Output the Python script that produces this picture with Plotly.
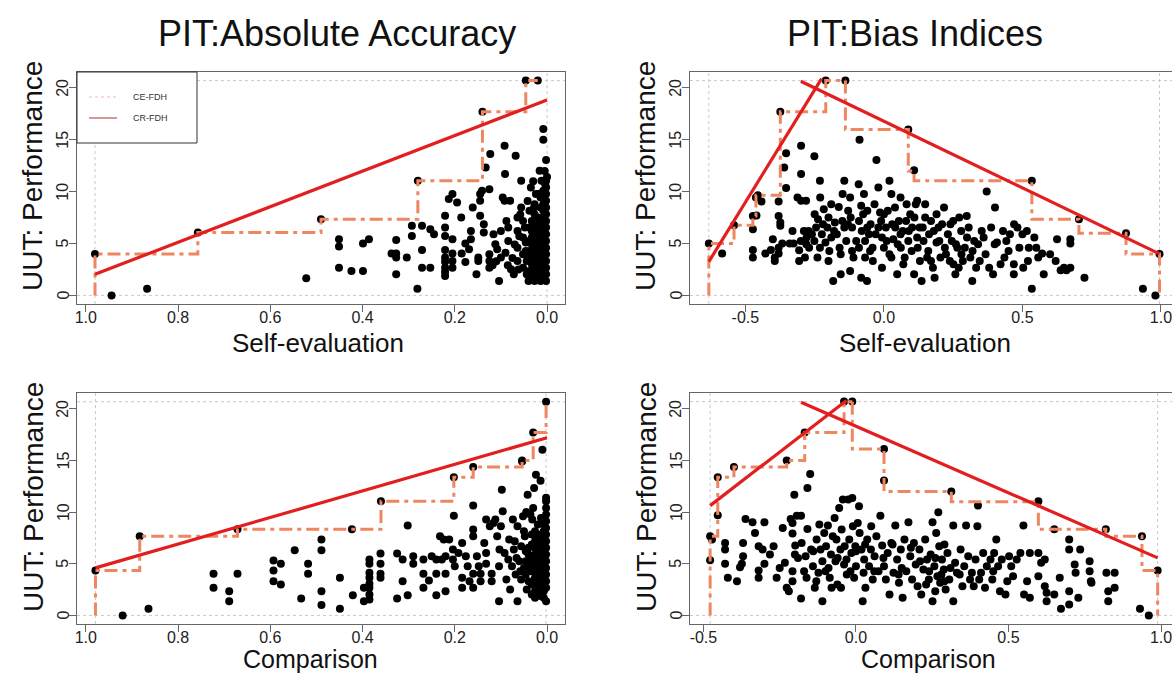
import plotly.graph_objects as go

# ---------------- data ----------------
# Top-left: Self-evaluation absolute accuracy vs performance
tl_x = [0.944,0.867,0.522,0.451,0.451,0.451,0.424,0.399,0.399,0.386,
        0.337,0.327,0.327,0.327,0.327,0.304,0.293,0.293,0.281,0.271,
        0.271,0.271,0.253,0.253,0.245,0.221,0.221,0.221,0.221,0.221,
        0.221,0.221,0.221,0.221,0.213,0.205,0.195,0.205,0.205,0.205,
        0.205,0.186,0.185,0.177,0.177,0.169,0.165,0.165,0.161,0.153,
        0.149,0.149,0.145,0.145,0.145,0.141,0.137,0.137,0.133,0.125,
        0.123,0.125,0.125,0.125,0.116,0.112,0.108,0.104,0.1,0.1,
        0.096,0.092,0.091,0.092,0.088,0.084,0.084,0.08,0.078,0.072,
        0.068,0.064,0.064,0.064,0.064,0.056,0.056,0.052,0.052,0.052,
        0.052,0.048,0.046,0.046,0.044,0.044,0.04,0.016,0.012,0.008,
        0.008,0.002,0.028,0.024,0.98,0.757,0.49,0.28,0.14,0.046,
        0.02,0.002,0.002,0.002,0.002,0.002,0.002,0.002,0.002,0.002,
        0.002,0.002,0.002,0.002,0.002,0.002,0.002,0.008,0.008,0.008,
        0.008,0.008,0.008,0.008,0.008,0.008,0.008,0.008,0.008,0.008,
        0.014,0.014,0.014,0.014,0.014,0.014,0.014,0.014,0.014,0.014,
        0.014,0.014,0.02,0.02,0.02,0.02,0.02,0.02,0.02,0.02,
        0.02,0.02,0.027,0.027,0.027,0.027,0.027,0.027,0.027,0.027,
        0.027,0.033,0.033,0.033,0.033,0.033,0.033,0.033,0.038,0.038,
        0.038,0.038,0.038,0.038,0.06,0.07,0.075,0.09,0.11,0.118,
        0.058,0.042,0.035,0.03,0.005,0.0,0.004,0.017,0.062,0.085]
tl_y = [0.0,0.64,1.64,5.41,4.70,2.67,2.35,4.99,2.35,5.41,
        4.03,5.35,4.03,3.64,2.03,3.64,6.7,5.73,0.64,6.7,
        4.38,2.67,6.38,2.67,5.9,7.67,6.54,5.73,4.38,3.64,
        3.25,2.67,2.25,1.87,9.28,9.76,8.95,5.41,4.03,3.32,
        2.67,7.5,4.03,4.99,3.22,4.44,6.2,5.41,8.47,2.03,
        3.64,3.32,9.76,7.67,9.11,10.08,6.86,6.05,12.33,10.24,
        13.62,3.96,3.32,2.67,5.9,4.93,4.44,1.38,6.2,3.64,
        9.44,14.43,11.69,9.11,7.18,6.54,5.25,9.11,2.51,2.03,
        13.46,7.5,6.2,4.6,3.32,11.05,8.47,7.18,5.57,3.96,
        2.67,6.54,5.09,4.28,3.32,2.03,1.38,12.01,11.05,16.04,
        15.0,13.04,8.47,9.76,4.0,6.05,7.35,11.05,17.7,20.7,
        20.7,1.38,2.03,2.67,3.32,3.96,4.6,5.25,5.9,6.54,
        7.18,7.83,8.47,9.11,9.76,10.4,11.05,1.71,2.35,3.0,
        3.64,4.28,4.93,5.57,6.2,6.86,7.5,8.15,8.79,10.08,
        1.38,2.03,2.67,3.32,3.96,4.6,5.25,5.9,6.54,7.18,
        8.47,9.44,1.71,2.35,3.0,3.64,4.28,4.93,5.57,6.2,
        6.86,7.5,1.38,2.67,3.32,4.6,5.25,5.9,6.54,7.83,
        8.79,2.03,3.0,3.96,4.93,5.57,6.2,7.18,2.35,3.64,
        4.28,5.25,6.54,8.15,5.7,4.9,3.6,4.1,3.3,2.9,
        7.8,9.1,10.4,11.0,12.0,11.4,10.7,9.8,2.5,2.9]

# Top-right: Self-evaluation bias index vs performance
tr_x = [-0.584,-0.541,-0.473,-0.473,-0.473,-0.473,-0.462,-0.455,-0.442,-0.428,
        -0.408,-0.401,-0.394,-0.394,-0.38,-0.38,-0.38,-0.38,-0.374,-0.374,
        -0.36,-0.353,-0.353,-0.367,-0.34,-0.326,-0.312,-0.306,-0.306,-0.299,
        -0.299,-0.299,-0.289,-0.285,-0.281,-0.279,-0.272,-0.251,-0.251,-0.245,
        -0.238,-0.231,-0.231,-0.224,-0.217,-0.211,-0.204,-0.197,-0.19,-0.183,
        -0.177,-0.17,-0.163,-0.156,-0.156,-0.149,-0.143,-0.143,-0.136,-0.129,
        -0.122,-0.122,-0.115,-0.115,-0.091,-0.088,-0.082,-0.082,-0.075,-0.072,
        -0.068,-0.068,-0.061,-0.054,-0.048,-0.041,-0.034,-0.027,-0.02,-0.02,
        -0.014,-0.007,-0.007,0.0,0.007,0.014,0.02,0.027,0.027,0.034,
        0.041,0.048,0.054,0.061,0.068,0.075,0.082,0.088,0.095,0.102,
        0.109,0.115,0.122,0.129,0.136,0.143,0.149,0.149,0.156,0.163,
        0.17,0.177,0.183,0.19,0.197,0.204,0.217,0.224,0.231,0.238,
        0.245,0.251,0.258,0.265,0.272,0.279,0.285,0.292,0.299,0.306,
        0.312,0.319,0.326,0.333,0.346,0.353,0.367,0.371,0.38,0.387,
        0.394,0.401,0.408,0.421,0.435,0.442,0.455,0.469,0.469,0.482,
        0.489,0.503,0.516,0.523,0.534,0.543,0.557,0.571,0.577,0.625,
        0.638,0.659,0.673,0.673,0.673,0.724,0.935,0.98,-0.632,-0.374,
        -0.21,-0.139,0.088,0.109,0.534,0.704,0.874,0.995,-0.46,-0.08,
        -0.26,-0.22,-0.19,-0.16,-0.13,-0.1,-0.09,-0.06,-0.05,-0.03,
        -0.01,0.01,0.03,0.05,0.06,0.08,0.1,0.12,0.14,0.16,
        0.18,0.2,0.22,0.24,0.26,0.28,0.3,0.32,0.34,0.36,
        -0.28,-0.24,-0.2,-0.18,-0.15,-0.11,-0.09,-0.04,0.0,0.02,
        0.04,0.07,0.09,0.11,0.13,0.17,0.19,0.21,0.25,0.27,
        -0.33,-0.3,-0.27,-0.25,-0.23,-0.2,-0.12,-0.06,0.06,0.12,
        0.4,0.43,0.45,0.47,0.5,0.52,0.55,0.6,0.62,0.65]
tr_y = [4.03,6.76,6.38,4.38,3.64,7.66,9.44,9.66,9.05,4.03,
        4.38,5.41,3.64,3.32,7.66,9.05,4.6,4.03,7.02,6.7,
        12.33,13.69,10.34,4.99,4.99,4.99,9.44,3.32,4.35,14.43,
        11.69,9.11,6.2,3.64,9.11,5.57,6.2,13.4,5.25,6.54,
        7.34,11.05,4.6,5.9,8.31,5.09,6.54,4.28,8.79,1.38,
        7.02,5.9,8.53,2.03,3.96,9.76,11.05,6.54,5.25,8.15,
        9.44,2.35,4.28,6.54,10.72,15.0,1.71,8.63,7.83,9.76,
        5.25,3.64,1.38,5.9,6.86,4.6,8.79,13.04,10.4,6.54,
        7.99,5.57,2.67,4.6,6.54,8.15,11.05,9.76,3.64,5.41,
        6.54,2.03,7.18,4.6,6.2,3.64,8.79,5.25,7.83,6.54,
        2.03,8.79,4.6,6.54,1.38,5.25,8.79,7.5,3.64,5.9,
        7.18,2.67,1.71,5.09,6.54,3.64,8.47,3.96,5.9,3.32,
        5.25,3.0,2.03,4.6,7.5,6.2,3.32,4.6,7.66,6.54,
        3.64,1.38,5.25,2.67,3.32,6.2,3.96,10.02,2.67,6.54,
        2.03,8.47,5.09,3.0,3.64,5.25,5.9,3.0,2.03,6.54,
        4.6,2.67,6.2,4.6,0.64,5.57,3.64,4.03,2.03,5.41,
        2.42,2.42,2.67,4.99,5.41,1.71,0.64,0.0,5.0,17.7,
        20.7,20.7,16.0,12.05,11.05,7.35,6.0,4.0,7.7,6.2,
        5.9,6.86,5.57,4.6,6.86,5.25,7.18,6.54,4.28,5.9,
        7.18,5.25,6.86,4.93,5.9,7.18,4.28,5.57,6.54,4.28,
        6.2,5.25,4.6,6.86,4.93,3.96,5.57,4.28,4.93,5.57,
        4.93,3.64,3.32,6.2,7.18,3.64,4.6,3.32,7.83,3.96,
        8.47,3.0,6.2,7.5,3.32,3.32,7.83,6.86,7.18,2.67,
        6.2,5.25,4.6,7.83,9.44,7.5,7.5,8.15,9.44,9.11,
        4.93,6.2,4.28,6.86,5.9,3.32,4.6,3.96,3.32,2.67]

# Bottom-left: Comparison absolute accuracy vs performance
bl_x = [0.92,0.864,0.723,0.723,0.689,0.689,0.671,0.593,0.593,0.593,
        0.577,0.577,0.547,0.533,0.518,0.518,0.489,0.489,0.489,0.489,
        0.449,0.449,0.421,0.397,0.397,0.385,0.385,0.385,0.385,0.385,
        0.385,0.385,0.385,0.361,0.361,0.361,0.361,0.325,0.325,0.313,
        0.313,0.302,0.302,0.29,0.29,0.268,0.268,0.268,0.256,0.25,
        0.24,0.24,0.24,0.232,0.228,0.224,0.22,0.22,0.22,0.212,
        0.202,0.204,0.204,0.2,0.192,0.184,0.184,0.184,0.176,0.172,
        0.168,0.16,0.16,0.16,0.16,0.16,0.152,0.148,0.144,0.144,
        0.136,0.132,0.132,0.132,0.124,0.12,0.12,0.116,0.112,0.108,
        0.104,0.104,0.103,0.1,0.098,0.096,0.092,0.088,0.084,0.082,
        0.08,0.076,0.074,0.072,0.068,0.064,0.064,0.06,0.056,0.056,
        0.054,0.052,0.048,0.044,0.042,0.032,0.028,0.024,0.02,0.014,
        0.01,0.014,0.002,0.979,0.883,0.671,0.423,0.36,0.202,0.16,
        0.054,0.03,0.002,0.002,0.002,0.002,0.002,0.002,0.002,0.002,
        0.002,0.002,0.002,0.002,0.002,0.002,0.002,0.002,0.007,0.007,
        0.007,0.007,0.007,0.007,0.007,0.007,0.007,0.007,0.007,0.007,
        0.013,0.013,0.013,0.013,0.013,0.013,0.013,0.013,0.013,0.013,
        0.02,0.02,0.02,0.02,0.02,0.02,0.02,0.02,0.02,0.026,
        0.026,0.026,0.026,0.026,0.026,0.026,0.026,0.026,0.033,0.033,
        0.033,0.033,0.033,0.033,0.033,0.04,0.04,0.04,0.04,0.046,
        0.046,0.046,0.05,0.05,0.036,0.03,0.045,0.07,0.066,0.058]
bl_y = [0.0,0.64,4.03,2.67,2.35,1.38,4.03,5.31,4.35,3.32,
        4.99,3.0,6.31,1.64,4.99,4.03,7.34,6.31,2.35,1.0,
        3.64,0.64,1.96,2.67,1.38,5.41,4.99,4.12,3.64,3.06,
        2.67,2.03,1.55,5.99,4.99,4.03,3.64,5.99,1.64,5.41,
        3.32,8.7,1.96,5.73,4.99,5.41,4.03,2.67,3.38,5.73,
        5.41,4.03,1.96,7.67,5.41,7.34,5.73,4.03,2.35,7.34,
        9.66,6.38,5.41,4.77,6.05,7.02,3.64,2.67,5.73,4.77,
        3.32,10.63,8.31,7.67,4.03,2.67,5.73,4.77,4.03,3.32,
        7.02,9.28,6.05,4.99,8.63,4.03,3.32,8.95,9.28,7.67,
        1.38,4.77,6.38,8.63,12.17,10.08,6.05,3.48,5.41,7.34,
        2.51,4.77,9.28,6.38,3.96,1.38,8.63,5.25,3.48,6.7,
        14.91,9.6,7.67,2.51,11.69,9.28,12.33,13.62,2.19,13.04,
        16.04,1.87,1.38,4.35,7.67,8.34,8.34,11.05,13.37,14.36,
        15.0,17.7,20.68,2.67,3.32,3.96,4.6,5.25,5.9,6.54,
        7.18,7.83,8.47,9.11,9.76,10.4,11.05,11.4,1.71,2.35,
        3.0,3.64,4.28,4.93,5.57,6.2,6.86,7.5,8.15,8.79,
        2.67,3.32,3.96,4.6,5.25,5.9,6.54,7.18,7.83,9.44,
        3.0,3.64,4.28,4.93,5.57,6.2,6.86,7.5,8.79,1.71,
        2.35,3.64,4.6,5.25,5.9,6.54,7.18,8.15,2.03,3.0,
        4.28,4.93,5.57,6.86,7.83,3.32,4.6,5.9,6.54,3.96,
        5.25,6.2,4.6,8.15,9.76,10.4,10.0,7.18,5.57,4.28]

# Bottom-right: Comparison bias index vs performance
br_x = [-0.478,-0.472,-0.429,-0.429,-0.429,-0.42,-0.39,-0.37,-0.37,-0.374,
        -0.38,-0.362,-0.339,-0.331,-0.319,-0.319,-0.319,-0.306,-0.3,-0.3,
        -0.282,-0.26,-0.233,-0.227,-0.22,-0.214,-0.208,-0.208,-0.208,-0.208,
        -0.202,-0.199,-0.194,-0.18,-0.18,-0.178,-0.165,-0.162,-0.159,-0.159,
        -0.15,-0.147,-0.141,-0.135,-0.129,-0.123,-0.116,-0.11,-0.11,-0.104,
        -0.098,-0.092,-0.086,-0.082,-0.076,-0.067,-0.064,-0.061,-0.055,-0.051,
        -0.049,-0.047,-0.043,-0.039,-0.037,-0.031,-0.025,-0.022,-0.018,-0.015,
        -0.012,-0.01,-0.006,-0.002,0.0,0.006,0.01,0.012,0.018,0.022,
        0.025,0.027,0.031,0.037,0.043,0.049,0.055,0.061,0.067,0.074,
        0.08,0.086,0.092,0.098,0.104,0.11,0.116,0.123,0.129,0.135,
        0.141,0.147,0.153,0.159,0.165,0.172,0.178,0.184,0.19,0.196,
        0.202,0.208,0.214,0.221,0.227,0.233,0.239,0.245,0.251,0.251,
        0.257,0.263,0.267,0.27,0.273,0.276,0.282,0.288,0.294,0.3,
        0.306,0.319,0.319,0.325,0.331,0.343,0.349,0.355,0.361,0.368,
        0.374,0.38,0.386,0.392,0.398,0.4,0.404,0.41,0.417,0.423,
        0.429,0.441,0.447,0.453,0.46,0.466,0.472,0.478,0.49,0.496,
        0.502,0.509,0.515,0.527,0.539,0.549,0.551,0.561,0.57,0.57,
        0.598,0.598,0.607,0.619,0.619,0.625,0.625,0.65,0.668,0.672,
        0.699,0.699,0.699,0.699,0.717,0.72,0.729,0.735,0.766,0.766,
        0.77,0.772,0.821,0.827,0.827,0.848,0.848,0.931,0.96,-0.478,
        -0.453,-0.453,-0.40,-0.227,-0.168,-0.039,-0.012,0.092,0.092,0.3125,
        0.598,0.65,0.819,0.9375,0.989,-0.25,-0.19,-0.14,-0.09,-0.06,
        -0.03,0.0,0.03,0.06,0.09,0.12,0.15,0.18,0.21,0.24,
        0.26,0.28,0.29,0.31,0.34,-0.27,-0.24,-0.12,-0.07,0.05,
        -0.2,-0.17,-0.13,-0.1,-0.08,0.26,0.29,0.23,0.14,0.45]
br_y = [5.35,7.34,7.02,6.38,4.99,3.64,3.32,7.02,5.73,4.99,
        4.67,9.34,9.02,7.99,6.7,4.35,3.64,6.38,9.02,4.99,
        5.9,3.64,5.09,2.67,2.35,9.34,8.95,7.92,4.28,3.32,
        11.69,6.76,9.66,9.66,1.64,7.02,5.73,3.64,8.37,12.33,
        13.69,6.38,4.77,2.67,7.34,4.12,6.38,1.38,5.25,7.99,
        6.7,8.7,3.64,5.9,7.67,5.25,7.34,3.0,10.4,6.38,
        2.67,8.31,11.21,4.93,6.7,5.41,11.21,7.34,4.28,6.05,
        11.37,8.63,3.64,6.7,4.77,8.95,10.56,7.99,6.38,1.38,
        4.12,5.41,2.67,7.34,4.77,6.38,3.48,5.73,7.67,4.28,
        9.66,6.76,4.77,3.48,6.05,2.03,7.02,4.12,8.7,5.41,
        3.16,6.38,1.71,7.34,4.28,9.02,5.73,3.48,7.02,4.93,
        2.83,6.38,2.03,4.44,7.34,5.41,3.48,5.9,1.38,9.02,
        4.77,7.99,3.8,9.98,6.7,3.16,5.41,4.44,2.51,6.05,
        3.48,1.38,8.7,5.09,4.12,6.38,2.83,4.77,8.7,5.73,
        3.48,4.12,2.83,5.41,8.63,10.63,3.48,4.12,6.05,2.67,
        4.77,5.41,3.48,6.05,7.34,4.77,2.35,5.41,2.03,3.32,
        5.73,4.77,3.8,5.41,6.05,8.7,2.03,3.32,1.71,6.05,
        6.05,3.8,5.09,5.41,2.83,2.19,1.38,2.03,3.64,0.64,
        7.34,6.38,2.35,1.06,4.93,4.12,1.71,6.38,5.25,4.28,
        3.32,3.16,4.12,2.35,1.38,4.12,2.67,0.64,0.0,7.67,
        13.37,9.7,14.36,15.0,17.7,20.7,20.7,16.1,13.05,12.0,
        11.05,8.34,8.34,7.67,4.35,4.6,5.57,6.2,4.6,5.57,
        3.96,6.2,6.86,4.28,5.57,6.86,4.6,6.54,5.25,4.28,
        5.57,3.96,6.86,4.6,3.96,6.7,8.47,8.79,9.44,8.63,
        5.9,4.28,3.32,4.28,2.67,2.35,3.32,3.0,3.96,4.28]

# CE-FDH step frontiers (frontier points)
ce_tl_x = [0.98, 0.98, 0.757, 0.49, 0.28, 0.14, 0.046, 0.02]
ce_tl_y = [0.0, 4.0, 6.05, 7.35, 11.05, 17.7, 20.7, 20.7]
ce_tr_up_x = [-0.632, -0.632, -0.541, -0.473, -0.462, -0.374, -0.21, -0.139]
ce_tr_up_y = [0.0, 5.0, 6.76, 7.66, 9.66, 17.7, 20.7, 20.7]
ce_tr_dn_x = [-0.139, 0.088, 0.109, 0.534, 0.704, 0.874, 0.995, 0.995]
ce_tr_dn_y = [20.7, 16.0, 12.0, 11.05, 7.35, 6.0, 4.0, 0.0]
ce_bl_x = [0.979, 0.979, 0.883, 0.671, 0.36, 0.202, 0.16, 0.054, 0.03, 0.002]
ce_bl_y = [0.0, 4.35, 7.67, 8.34, 11.05, 13.37, 14.36, 15.0, 17.7, 20.68]
ce_br_up_x = [-0.478, -0.478, -0.453, -0.40, -0.227, -0.168, -0.039, -0.012]
ce_br_up_y = [0.0, 7.67, 13.37, 14.36, 15.0, 17.7, 20.68, 20.68]
ce_br_dn_x = [-0.012, 0.092, 0.3125, 0.598, 0.819, 0.9375, 0.989, 0.989]
ce_br_dn_y = [20.68, 16.1, 12.0, 11.0, 8.34, 7.67, 4.35, 0.0]

# CR-FDH lines (end points)
cr_tl_x = [0.98, 0.0]
cr_tl_y = [2.03, 18.84]
cr_tr_up_x = [-0.632, -0.225]
cr_tr_up_y = [3.25, 20.9]
cr_tr_dn_x = [-0.30, 0.995]
cr_tr_dn_y = [20.64, 4.0]
cr_bl_x = [0.979, 0.0]
cr_bl_y = [4.6, 17.2]
cr_br_up_x = [-0.478, -0.031]
cr_br_up_y = [10.63, 20.8]
cr_br_dn_x = [-0.18, 0.989]
cr_br_dn_y = [20.64, 5.57]

titles = ["PIT:Absolute Accuracy", "PIT:Bias Indices"]
xlabels = ["Self-evaluation", "Comparison"]
ylabel = "UUT: Performance"
legend_labels = ["CE-FDH", "CR-FDH"]
acc_ticks = [1.0, 0.8, 0.6, 0.4, 0.2, 0.0]
bias_ticks = [-0.5, 0.0, 0.5, 1.0]
y_ticks = [0, 5, 10, 15, 20]

# ---------------- styling ----------------
W, H = 1172, 673
FONT = "Liberation Sans, Arial, Helvetica, sans-serif"
CE_COLOR = "#EE8660"
CR_COLOR = "#E21E1E"
AX_COLOR = "#666666"
GRID_COLOR = "#C9C9C9"
CE_DASH = "13px,5px,4px,5px"


def px(p):
    return p / W


def py(p):
    return 1 - p / H


def fmt(v):
    # R style labels with an ASCII hyphen for negatives
    return "%.1f" % v


panels = [
    dict(ax="", xs=tl_x, ys=tl_y, xdom=(77, 565), ydom=(72, 304),
         xrange=[1.019, -0.039], xticks=acc_ticks, left=True,
         title=titles[0], title_x=337, xlabel=xlabels[0], xlabel_x=318, xlabel_y=343,
         xlabel_size=26, ycen=176,
         ce=[(ce_tl_x, ce_tl_y, "hv")], cr=[(cr_tl_x, cr_tl_y)]),
    dict(ax="2", xs=tr_x, ys=tr_y, xdom=(690, 1172), ydom=(72, 304),
         xrange=[-0.700, 1.040], xticks=bias_ticks, left=False,
         title=titles[1], title_x=915, xlabel=xlabels[0], xlabel_x=925, xlabel_y=343,
         xlabel_size=26, ycen=176,
         ce=[(ce_tr_up_x, ce_tr_up_y, "hv"), (ce_tr_dn_x, ce_tr_dn_y, "vh")],
         cr=[(cr_tr_up_x, cr_tr_up_y), (cr_tr_dn_x, cr_tr_dn_y)]),
    dict(ax="3", xs=bl_x, ys=bl_y, xdom=(77, 565), ydom=(393, 624),
         xrange=[1.019, -0.039], xticks=acc_ticks, left=True,
         title=None, xlabel=xlabels[1], xlabel_x=310, xlabel_y=659,
         xlabel_size=25, ycen=497,
         ce=[(ce_bl_x, ce_bl_y, "hv")], cr=[(cr_bl_x, cr_bl_y)]),
    dict(ax="4", xs=br_x, ys=br_y, xdom=(690, 1172), ydom=(393, 624),
         xrange=[-0.544, 1.036], xticks=bias_ticks, left=False,
         title=None, xlabel=xlabels[1], xlabel_x=928, xlabel_y=659,
         xlabel_size=25, ycen=497,
         ce=[(ce_br_up_x, ce_br_up_y, "hv"), (ce_br_dn_x, ce_br_dn_y, "vh")],
         cr=[(cr_br_up_x, cr_br_up_y), (cr_br_dn_x, cr_br_dn_y)]),
]

fig = go.Figure()
shapes = []
annotations = []
layout = dict(
    width=W, height=H, margin=dict(l=0, r=0, t=0, b=0),
    paper_bgcolor="white", plot_bgcolor="white", showlegend=False,
    template="none", font=dict(family=FONT, color="#111"),
)

for p in panels:
    xa = "x" + p["ax"]
    ya = "y" + p["ax"]
    # dotted reference lines at the data extremes
    xmin, xmax = min(p["xs"]), max(p["xs"])
    ymin, ymax = min(p["ys"]), max(p["ys"])
    for xv in (xmin, xmax):
        shapes.append(dict(type="line", xref=xa, yref=ya + " domain", x0=xv, x1=xv,
                           y0=0, y1=1, layer="below",
                           line=dict(color=GRID_COLOR, width=1, dash="dot")))
    for yv in (ymin, ymax):
        shapes.append(dict(type="line", xref=xa + " domain", yref=ya, x0=0, x1=1,
                           y0=yv, y1=yv, layer="below",
                           line=dict(color=GRID_COLOR, width=1, dash="dot")))
    fig.add_trace(go.Scatter(x=p["xs"], y=p["ys"], mode="markers", xaxis=xa, yaxis=ya,
                             marker=dict(color="black", size=8, line=dict(width=0)),
                             hoverinfo="skip"))
    for cx, cy, shp in p["ce"]:
        fig.add_trace(go.Scatter(x=cx, y=cy, mode="lines", xaxis=xa, yaxis=ya,
                                 line=dict(color=CE_COLOR, width=3, dash=CE_DASH, shape=shp),
                                 hoverinfo="skip"))
    for rx, ry in p["cr"]:
        fig.add_trace(go.Scatter(x=rx, y=ry, mode="lines", xaxis=xa, yaxis=ya,
                                 line=dict(color=CR_COLOR, width=3.2),
                                 hoverinfo="skip"))
    xkey = "xaxis" + p["ax"]
    ykey = "yaxis" + p["ax"]
    layout[xkey] = dict(
        domain=[px(p["xdom"][0]), px(p["xdom"][1])], anchor=ya, range=p["xrange"],
        tickvals=p["xticks"], ticktext=[fmt(v) for v in p["xticks"]],
        ticks="outside", ticklen=7,
        tickcolor=AX_COLOR, tickwidth=1, showgrid=False, zeroline=False,
        showline=True, mirror=True, linecolor=AX_COLOR, linewidth=1.4,
        ticklabelstandoff=-8, ticklabeloverflow="allow",
        tickfont=dict(size=16, color="#222", family=FONT), automargin=False,
    )
    layout[ykey] = dict(
        domain=[py(p["ydom"][1]), py(p["ydom"][0])], anchor=xa, range=[-0.83, 21.53],
        tickvals=y_ticks, ticks="outside", ticklen=7, showticklabels=False,
        tickcolor=AX_COLOR, tickwidth=1, showgrid=False, zeroline=False,
        showline=True, mirror=p["left"], linecolor=AX_COLOR, linewidth=1.4,
        automargin=False,
    )
    # rotated y tick labels (R style, parallel to the axis)
    for tv in y_ticks:
        annotations.append(dict(text=str(tv), textangle=-90, x=px(p["xdom"][0] - 14), y=tv,
                                xref="paper", yref=ya, showarrow=False,
                                xanchor="center", yanchor="middle",
                                font=dict(size=16, color="#222", family=FONT)))
    # x-axis title
    annotations.append(dict(text=p["xlabel"], x=px(p["xlabel_x"]), y=py(p["xlabel_y"]),
                            xref="paper", yref="paper", showarrow=False,
                            xanchor="center", yanchor="middle",
                            font=dict(size=p["xlabel_size"], color="#111", family=FONT)))
    # y-axis title
    annotations.append(dict(text=ylabel, textangle=-90,
                            x=px(p["xdom"][0] - 44), y=py(p["ycen"]),
                            xref="paper", yref="paper", showarrow=False,
                            xanchor="center", yanchor="middle",
                            font=dict(size=28, color="#111", family=FONT)))
    if p["title"]:
        annotations.append(dict(text=p["title"], x=px(p["title_x"]), y=py(33),
                                xref="paper", yref="paper", showarrow=False,
                                xanchor="center", yanchor="middle",
                                font=dict(size=36, color="#111", family=FONT)))

# legend box (top-left panel)
shapes.append(dict(type="rect", xref="paper", yref="paper", x0=px(77), x1=px(197),
                   y0=py(143), y1=py(72), fillcolor="white", layer="above",
                   line=dict(color="#333", width=1)))
shapes.append(dict(type="line", xref="paper", yref="paper", x0=px(89), x1=px(117),
                   y0=py(97), y1=py(97), layer="above",
                   line=dict(color="#F3B9AE", width=1, dash="dot")))
shapes.append(dict(type="line", xref="paper", yref="paper", x0=px(89), x1=px(117),
                   y0=py(118), y1=py(118), layer="above",
                   line=dict(color="#B0302A", width=1)))
for lab, yy in zip(legend_labels, (97, 118)):
    annotations.append(dict(text=lab, x=px(131), y=py(yy), xref="paper", yref="paper",
                            showarrow=False, xanchor="left", yanchor="middle",
                            font=dict(size=9, color="#333", family=FONT)))

layout["shapes"] = shapes
layout["annotations"] = annotations
fig.update_layout(**layout)
fig.write_html("out.html")
